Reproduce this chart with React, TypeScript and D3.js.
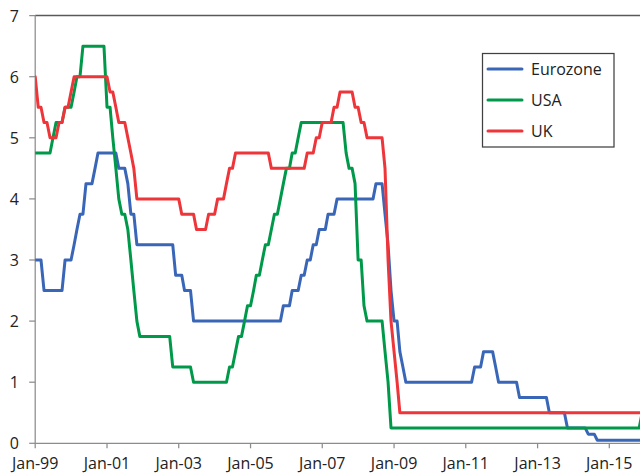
import React from "react";
import * as d3 from "d3";

// Monthly policy rates (%), end of month, Jan 1999 – Dec 2015, one row per year
const START_YEAR = 1999;

const eurozone: number[] = [
  3, 3, 3, 2.5, 2.5, 2.5, 2.5, 2.5, 2.5, 2.5, 3, 3, // 1999
  3, 3.25, 3.5, 3.75, 3.75, 4.25, 4.25, 4.25, 4.5, 4.75, 4.75, 4.75, // 2000
  4.75, 4.75, 4.75, 4.75, 4.5, 4.5, 4.5, 4.25, 3.75, 3.75, 3.25, 3.25, // 2001
  3.25, 3.25, 3.25, 3.25, 3.25, 3.25, 3.25, 3.25, 3.25, 3.25, 3.25, 2.75, // 2002
  2.75, 2.75, 2.5, 2.5, 2.5, 2, 2, 2, 2, 2, 2, 2, // 2003
  2, 2, 2, 2, 2, 2, 2, 2, 2, 2, 2, 2, // 2004
  2, 2, 2, 2, 2, 2, 2, 2, 2, 2, 2, 2.25, // 2005
  2.25, 2.25, 2.5, 2.5, 2.5, 2.75, 2.75, 3, 3, 3.25, 3.25, 3.5, // 2006
  3.5, 3.5, 3.75, 3.75, 3.75, 4, 4, 4, 4, 4, 4, 4, // 2007
  4, 4, 4, 4, 4, 4, 4.25, 4.25, 4.25, 3.75, 3.25, 2.5, // 2008
  2, 2, 1.5, 1.25, 1, 1, 1, 1, 1, 1, 1, 1, // 2009
  1, 1, 1, 1, 1, 1, 1, 1, 1, 1, 1, 1, // 2010
  1, 1, 1, 1.25, 1.25, 1.25, 1.5, 1.5, 1.5, 1.5, 1.25, 1, // 2011
  1, 1, 1, 1, 1, 1, 0.75, 0.75, 0.75, 0.75, 0.75, 0.75, // 2012
  0.75, 0.75, 0.75, 0.75, 0.5, 0.5, 0.5, 0.5, 0.5, 0.5, 0.25, 0.25, // 2013
  0.25, 0.25, 0.25, 0.25, 0.25, 0.15, 0.15, 0.15, 0.05, 0.05, 0.05, 0.05, // 2014
  0.05, 0.05, 0.05, 0.05, 0.05, 0.05, 0.05, 0.05, 0.05, 0.05, 0.05, 0.05, // 2015
];

const usa: number[] = [
  4.75, 4.75, 4.75, 4.75, 4.75, 4.75, 5, 5.25, 5.25, 5.25, 5.5, 5.5, // 1999
  5.5, 5.75, 6, 6, 6.5, 6.5, 6.5, 6.5, 6.5, 6.5, 6.5, 6.5, // 2000
  5.5, 5.5, 5, 4.5, 4, 3.75, 3.75, 3.5, 3, 2.5, 2, 1.75, // 2001
  1.75, 1.75, 1.75, 1.75, 1.75, 1.75, 1.75, 1.75, 1.75, 1.75, 1.25, 1.25, // 2002
  1.25, 1.25, 1.25, 1.25, 1.25, 1, 1, 1, 1, 1, 1, 1, // 2003
  1, 1, 1, 1, 1, 1.25, 1.25, 1.5, 1.75, 1.75, 2, 2.25, // 2004
  2.25, 2.5, 2.75, 2.75, 3, 3.25, 3.25, 3.5, 3.75, 3.75, 4, 4.25, // 2005
  4.5, 4.5, 4.75, 4.75, 5, 5.25, 5.25, 5.25, 5.25, 5.25, 5.25, 5.25, // 2006
  5.25, 5.25, 5.25, 5.25, 5.25, 5.25, 5.25, 5.25, 4.75, 4.5, 4.5, 4.25, // 2007
  3, 3, 2.25, 2, 2, 2, 2, 2, 2, 1.5, 1, 0.25, // 2008
  0.25, 0.25, 0.25, 0.25, 0.25, 0.25, 0.25, 0.25, 0.25, 0.25, 0.25, 0.25, // 2009
  0.25, 0.25, 0.25, 0.25, 0.25, 0.25, 0.25, 0.25, 0.25, 0.25, 0.25, 0.25, // 2010
  0.25, 0.25, 0.25, 0.25, 0.25, 0.25, 0.25, 0.25, 0.25, 0.25, 0.25, 0.25, // 2011
  0.25, 0.25, 0.25, 0.25, 0.25, 0.25, 0.25, 0.25, 0.25, 0.25, 0.25, 0.25, // 2012
  0.25, 0.25, 0.25, 0.25, 0.25, 0.25, 0.25, 0.25, 0.25, 0.25, 0.25, 0.25, // 2013
  0.25, 0.25, 0.25, 0.25, 0.25, 0.25, 0.25, 0.25, 0.25, 0.25, 0.25, 0.25, // 2014
  0.25, 0.25, 0.25, 0.25, 0.25, 0.25, 0.25, 0.25, 0.25, 0.25, 0.25, 0.5, // 2015
];

const uk: number[] = [
  6, 5.5, 5.5, 5.25, 5.25, 5, 5, 5, 5.25, 5.25, 5.5, 5.5, // 1999
  5.75, 6, 6, 6, 6, 6, 6, 6, 6, 6, 6, 6, // 2000
  6, 5.75, 5.75, 5.5, 5.25, 5.25, 5.25, 5, 4.75, 4.5, 4, 4, // 2001
  4, 4, 4, 4, 4, 4, 4, 4, 4, 4, 4, 4, // 2002
  4, 3.75, 3.75, 3.75, 3.75, 3.75, 3.5, 3.5, 3.5, 3.5, 3.75, 3.75, // 2003
  3.75, 4, 4, 4, 4.25, 4.5, 4.5, 4.75, 4.75, 4.75, 4.75, 4.75, // 2004
  4.75, 4.75, 4.75, 4.75, 4.75, 4.75, 4.75, 4.5, 4.5, 4.5, 4.5, 4.5, // 2005
  4.5, 4.5, 4.5, 4.5, 4.5, 4.5, 4.5, 4.75, 4.75, 4.75, 5, 5, // 2006
  5.25, 5.25, 5.25, 5.25, 5.5, 5.5, 5.75, 5.75, 5.75, 5.75, 5.75, 5.5, // 2007
  5.5, 5.25, 5.25, 5, 5, 5, 5, 5, 5, 4.5, 3, 2, // 2008
  1.5, 1, 0.5, 0.5, 0.5, 0.5, 0.5, 0.5, 0.5, 0.5, 0.5, 0.5, // 2009
  0.5, 0.5, 0.5, 0.5, 0.5, 0.5, 0.5, 0.5, 0.5, 0.5, 0.5, 0.5, // 2010
  0.5, 0.5, 0.5, 0.5, 0.5, 0.5, 0.5, 0.5, 0.5, 0.5, 0.5, 0.5, // 2011
  0.5, 0.5, 0.5, 0.5, 0.5, 0.5, 0.5, 0.5, 0.5, 0.5, 0.5, 0.5, // 2012
  0.5, 0.5, 0.5, 0.5, 0.5, 0.5, 0.5, 0.5, 0.5, 0.5, 0.5, 0.5, // 2013
  0.5, 0.5, 0.5, 0.5, 0.5, 0.5, 0.5, 0.5, 0.5, 0.5, 0.5, 0.5, // 2014
  0.5, 0.5, 0.5, 0.5, 0.5, 0.5, 0.5, 0.5, 0.5, 0.5, 0.5, 0.5, // 2015
];

const seriesNames = ["Eurozone", "USA", "UK"];
const seriesValues = [eurozone, usa, uk];
const seriesColors = ["#3A66B7", "#00994A", "#EE3539"];

const yTicks = [0, 1, 2, 3, 4, 5, 6, 7];
const xTickYears = [1999, 2001, 2003, 2005, 2007, 2009, 2011, 2013, 2015];

const W = 640;
const H = 474;
const FONT = "'Open Sans', 'Noto Sans', sans-serif";

const monthDate = (i: number) => new Date(Date.UTC(START_YEAR, i, 1));

const x = d3
  .scaleUtc()
  .domain([new Date(Date.UTC(1999, 0, 1)), new Date(Date.UTC(2015, 0, 1))])
  .range([35.2, 609.3]);
const y = d3.scaleLinear().domain([0, 7]).range([443.3, 15.6]);
const fmt = d3.utcFormat("%b-%y");

const line = d3
  .line<number>()
  .x((_, i) => x(monthDate(i)))
  .y((v) => y(v));

export default function App() {
  const x0 = x.range()[0];
  const y0 = y(0);
  const yTop = y(7);
  return (
    <svg
      width={W}
      height={H}
      viewBox={`0 0 ${W} ${H}`}
      style={{ position: "absolute", left: 0, top: 0, background: "#fff" }}
      fontFamily={FONT}
    >
      <defs>
        <clipPath id="plot-clip">
          <rect x={x0} y={0} width={W - x0} height={H} />
        </clipPath>
      </defs>

      {/* plot frame: top edge, left axis, bottom axis */}
      <line x1={x0} x2={W} y1={yTop} y2={yTop} stroke="#595959" strokeWidth={1.5} />
      <line x1={x0} x2={x0} y1={yTop} y2={y0} stroke="#8C8C8C" strokeWidth={1.25} />
      <line x1={x0} x2={W} y1={y0} y2={y0} stroke="#8C8C8C" strokeWidth={1.25} />

      {/* y axis ticks and labels */}
      {yTicks.map((t) => (
        <g key={`y${t}`}>
          <line x1={x0 - 6} x2={x0} y1={y(t)} y2={y(t)} stroke="#8C8C8C" strokeWidth={1.25} />
          <text
            x={19}
            y={y(t)}
            textAnchor="end"
            dominantBaseline="central"
            fontSize={16}
            fill="#222"
          >
            {t}
          </text>
        </g>
      ))}

      {/* x axis ticks and labels */}
      {xTickYears.map((yr) => {
        const d = new Date(Date.UTC(yr, 0, 1));
        const px = x(d);
        return (
          <g key={`x${yr}`}>
            <line x1={px} x2={px} y1={y0} y2={y0 + 5} stroke="#8C8C8C" strokeWidth={1.25} />
            <text x={px} y={469} textAnchor="middle" fontSize={16} fill="#222">
              {fmt(d)}
            </text>
          </g>
        );
      })}

      {/* series lines */}
      <g clipPath="url(#plot-clip)">
        {seriesValues.map((vals, k) => (
          <path
            key={seriesNames[k]}
            d={line(vals) ?? ""}
            fill="none"
            stroke={seriesColors[k]}
            strokeWidth={3}
            strokeLinejoin="round"
            strokeLinecap="round"
          />
        ))}
      </g>

      {/* legend */}
      <g>
        <rect x={482.5} y={53.5} width={131.5} height={93.5} fill="#fff" stroke="#404040" strokeWidth={1.25} />
        {seriesNames.map((name, k) => {
          const ly = 69 + k * 31;
          return (
            <g key={`lg${name}`}>
              <line x1={488} x2={522} y1={ly} y2={ly} stroke={seriesColors[k]} strokeWidth={3} strokeLinecap="round" />
              <text x={531} y={ly} dominantBaseline="central" fontSize={16} fill="#222">
                {name}
              </text>
            </g>
          );
        })}
      </g>
    </svg>
  );
}
